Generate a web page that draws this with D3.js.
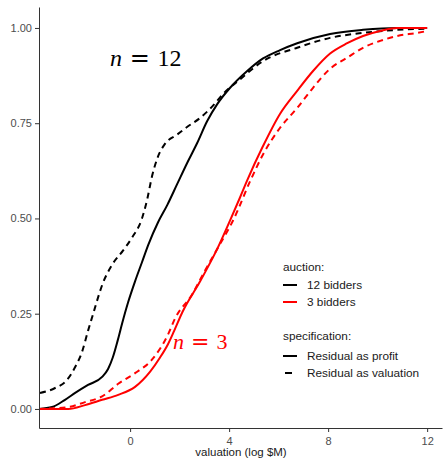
<!DOCTYPE html>
<html lang="en">
<head>
    <meta charset="UTF-8">
    <title>Valuation CDF</title>
    <script src="https://cdn.jsdelivr.net/npm/d3@7"></script>
    <style>
        body {
            margin: 0;
            padding: 0;
            background: #fff;
        }
        .axis text {
            font-family: "Liberation Sans", Arial, sans-serif;
            font-size: 11px;
            fill: #4d4d4d;
        }
        .axis path, .axis line {
            stroke: #333;
        }
        .legend text {
            font-family: "Liberation Sans", Arial, sans-serif;
            font-size: 11.8px;
            fill: #1a1a1a;
        }
    </style>
</head>
<body>
<svg width="443" height="459" id="mainsvg"></svg>
<script>
    // valuation (log $M) and cumulative share
    const bid12ProfitX = [-3.7, -3.15, -2.63, -2.22, -1.70, -1.13, -0.89, -0.70, -0.50, -0.32, -0.08, 0.20, 0.48, 0.73, 1.13, 1.50, 1.90, 2.30, 2.71, 3.11, 3.52, 4.04, 4.73, 5.37, 6.06, 6.75, 8.08, 9.41, 10.79, 12.0];
    const bid12ProfitY = [0.0, 0.005, 0.024, 0.042, 0.063, 0.084, 0.105, 0.135, 0.18, 0.225, 0.28, 0.335, 0.385, 0.43, 0.49, 0.535, 0.59, 0.645, 0.698, 0.755, 0.80, 0.843, 0.887, 0.92, 0.942, 0.96, 0.984, 0.995, 1.0, 1.0];

    const bid12ValX = [-3.64, -3.03, -2.55, -2.22, -1.94, -1.70, -1.49, -1.33, -1.13, -0.73, -0.28, 0.08, 0.48, 0.69, 0.89, 1.13, 1.40, 1.90, 2.30, 2.83, 3.35, 3.76, 4.44, 5.37, 6.75, 8.08, 9.41, 10.79, 12.0];
    const bid12ValY = [0.042, 0.055, 0.076, 0.11, 0.15, 0.205, 0.25, 0.285, 0.325, 0.378, 0.416, 0.45, 0.50, 0.55, 0.612, 0.663, 0.695, 0.72, 0.74, 0.764, 0.796, 0.827, 0.865, 0.913, 0.948, 0.974, 0.987, 0.995, 0.998];

    const bid3ProfitX = [-3.7, -2.5, -1.82, -1.13, -0.48, 0.20, 0.81, 1.21, 1.53, 1.78, 2.12, 2.83, 3.52, 4.04, 4.44, 4.73, 5.37, 6.06, 6.75, 7.39, 8.08, 8.77, 9.41, 10.10, 10.79, 12.0];
    const bid3ProfitY = [0.0, 0.0, 0.01, 0.024, 0.037, 0.058, 0.098, 0.135, 0.17, 0.205, 0.255, 0.335, 0.42, 0.495, 0.555, 0.60, 0.69, 0.775, 0.835, 0.887, 0.933, 0.96, 0.979, 0.992, 1.0, 1.0];

    const bid3ValX = [-3.7, -2.5, -1.82, -1.13, -0.48, 0.20, 0.89, 1.53, 1.82, 2.5, 3.0, 3.52, 4.2, 4.85, 5.37, 6.06, 6.75, 7.39, 8.08, 8.77, 9.41, 10.10, 10.79, 11.6, 12.0];
    const bid3ValY = [0.0, 0.005, 0.018, 0.033, 0.066, 0.094, 0.13, 0.195, 0.238, 0.30, 0.36, 0.42, 0.50, 0.598, 0.668, 0.738, 0.79, 0.843, 0.893, 0.922, 0.948, 0.966, 0.979, 0.987, 0.992];

    const xTicks = [0, 4, 8, 12];
    const yTicks = [0, 0.25, 0.5, 0.75, 1];
    const auctionLabels = ["12 bidders", "3 bidders"];
    const specLabels = ["Residual as profit", "Residual as valuation"];

    const auctionColors = ["#000000", "#ff0000"];
    const dash = "6,4.5";

    const svg = d3.select("#mainsvg");
    const padL = 39, padR = 442, padT = 7, padB = 428;

    let x = d3.scaleLinear().domain([-3.68, 12.6]).range([padL, padR]);
    let y = d3.scaleLinear().domain([-0.05, 1.055]).range([padB, padT]);

    svg.append("clipPath").attr("id", "clip")
        .append("rect")
        .attr("x", padL).attr("y", padT)
        .attr("width", padR - padL).attr("height", padB - padT);

    let line = d3.line()
        .x(d => x(d[0]))
        .y(d => y(d[1]))
        .curve(d3.curveMonotoneX);

    let series = [
        {xs: bid12ProfitX, ys: bid12ProfitY, color: auctionColors[0], dashed: false},
        {xs: bid12ValX, ys: bid12ValY, color: auctionColors[0], dashed: true},
        {xs: bid3ProfitX, ys: bid3ProfitY, color: auctionColors[1], dashed: false},
        {xs: bid3ValX, ys: bid3ValY, color: auctionColors[1], dashed: true}
    ];

    let plot = svg.append("g").attr("clip-path", "url(#clip)");
    series.forEach(s => {
        plot.append("path")
            .datum(d3.zip(s.xs, s.ys))
            .attr("d", line)
            .attr("fill", "none")
            .attr("stroke", s.color)
            .attr("stroke-width", 2)
            .attr("stroke-dasharray", s.dashed ? dash : null);
    });

    // axes
    svg.append("g")
        .attr("class", "axis")
        .attr("transform", "translate(0," + padB + ")")
        .call(d3.axisBottom(x).tickValues(xTicks).tickSize(4).tickSizeOuter(0).tickFormat(d3.format("d")))
        .call(g => g.selectAll("text").attr("dy", "0.9em"));
    svg.append("g")
        .attr("class", "axis")
        .attr("transform", "translate(" + padL + ",0)")
        .call(d3.axisLeft(y).tickValues(yTicks).tickSize(4).tickSizeOuter(0).tickFormat(d3.format(".2f")));

    svg.append("text")
        .attr("x", 241)
        .attr("y", 456)
        .attr("text-anchor", "middle")
        .attr("font-family", "Liberation Sans, Arial, sans-serif")
        .attr("font-size", "11.5px")
        .attr("fill", "#1a1a1a")
        .text("valuation (log $M)");

    // annotations, math style: italic n, wide equals sign
    function mathLabel(px, py, num, color, size) {
        let t = svg.append("text")
            .attr("x", px).attr("y", py)
            .attr("font-family", "Liberation Serif, Times New Roman, serif")
            .attr("font-size", size + "px")
            .attr("fill", color);
        t.append("tspan").attr("font-style", "italic").text("n");
        t.append("tspan").attr("font-family", "DejaVu Serif").text(" = ");
        t.append("tspan").text(num);
    }
    mathLabel(110, 66, "12", "#000000", 24);
    mathLabel(173, 349, "3", "#ff0000", 22);

    // legend
    let lg = svg.append("g").attr("class", "legend");
    lg.append("text").attr("x", 283).attr("y", 271).text("auction:");
    auctionLabels.forEach((lab, i) => {
        let yy = 285 + i * 17;
        lg.append("line")
            .attr("x1", 283).attr("x2", 297)
            .attr("y1", yy).attr("y2", yy)
            .attr("stroke", auctionColors[i]).attr("stroke-width", 2);
        lg.append("text").attr("x", 307).attr("y", yy + 4).text(lab);
    });
    lg.append("text").attr("x", 283).attr("y", 340).text("specification:");
    specLabels.forEach((lab, i) => {
        let yy = 356 + i * 17;
        lg.append("line")
            .attr("x1", i ? 285 : 283).attr("x2", i ? 292 : 297)
            .attr("y1", yy).attr("y2", yy)
            .attr("stroke", "#000").attr("stroke-width", 2);
        lg.append("text").attr("x", 307).attr("y", yy + 4).text(lab);
    });
</script>
</body>
</html>
